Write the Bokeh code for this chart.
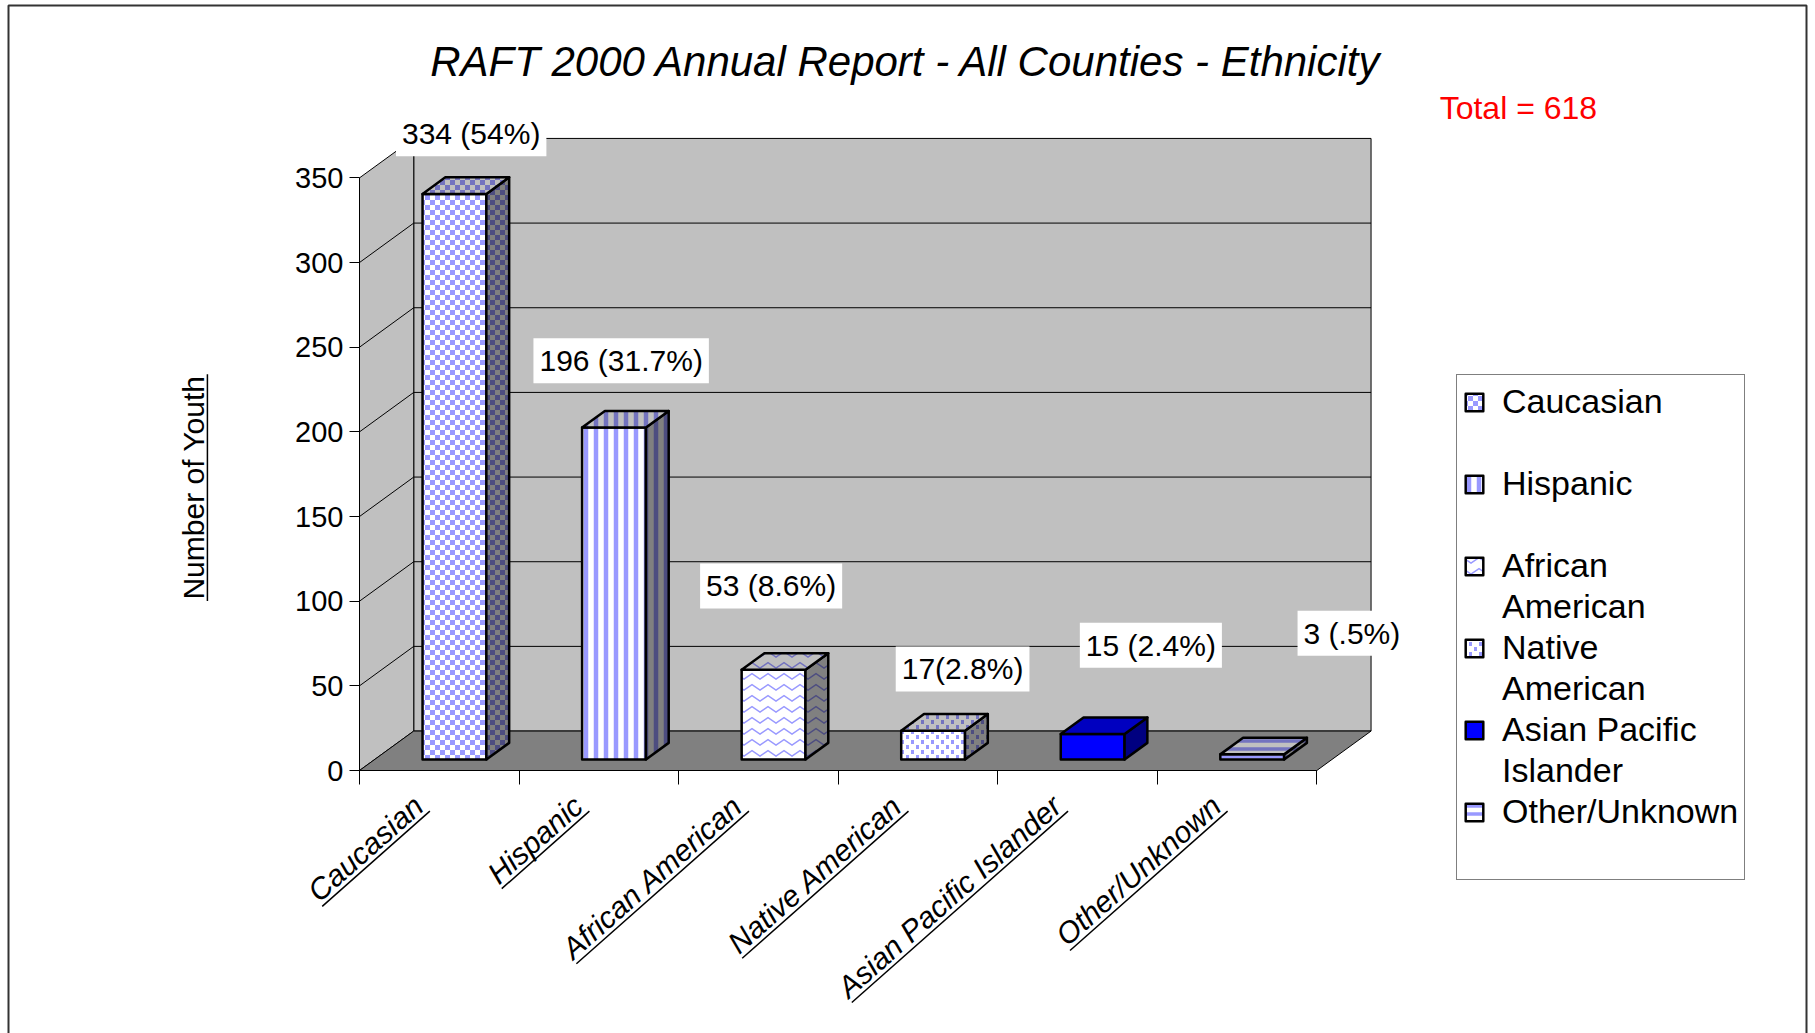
import math

from bokeh.core.properties import value
from bokeh.embed import file_html
from bokeh.models import (BoxAnnotation, CanvasTexture, FixedTicker, Label,
                          Legend, LegendItem, Range1d)
from bokeh.plotting import figure
from bokeh.resources import INLINE

# ---- data -------------------------------------------------------------
categories = ["Caucasian", "Hispanic", "African American", "Native American",
              "Asian Pacific Islander", "Other/Unknown"]
# legend rows: each category takes two text lines
legend_lines = [("Caucasian", " "), ("Hispanic", " "), ("African", "American"),
                ("Native", "American"), ("Asian Pacific", "Islander"),
                ("Other/Unknown", " ")]
youth = [334, 196, 53, 17, 15, 3]
value_labels = ["334 (54%)", "196 (31.7%)", "53 (8.6%)", "17(2.8%)", "15 (2.4%)", "3 (.5%)"]
y_ticks = [0, 50, 100, 150, 200, 250, 300, 350]
y_title = "Number of Youth"

# ---- layout -----------------------------------------------------------
FONT = "Liberation Sans"
W, H = 1815, 1033
N = len(categories)
Y_MAX = y_ticks[-1]
PX_PER_CAT = 159.55          # horizontal pixels per category
PX_PER_UNIT = 1.6932         # vertical pixels per youth
ORIGIN_X, ORIGIN_Y = 359, 770        # canvas position of the axes origin
DEPTH_X, DEPTH_Y = 0.34, 23.3        # floor depth (category widths, youth units)
BAR_LO, BAR_HI = 0.3, 0.7            # bar extent inside its category
D_FRONT, D_BACK = 0.28, 0.70         # bar extent along the depth

# value label offsets from the bar origin (category widths, youth units)
label_dx = [0.70, 0.64, 0.58, 0.78, 0.96, 1.22]
label_dy = [42, 46, 56, 43, 59, 78]

# advance widths (1/1000 em) of the sans face, used to size underlines
ADV = {' ': 278, '/': 278, 'A': 667, 'C': 722, 'H': 722, 'I': 278, 'N': 722,
       'O': 778, 'P': 667, 'U': 722, 'Y': 667, 'a': 556, 'b': 556, 'c': 500,
       'd': 556, 'e': 556, 'f': 278, 'h': 556, 'i': 222, 'k': 500, 'l': 222,
       'm': 833, 'n': 556, 'o': 556, 'p': 556, 'r': 333, 's': 500, 't': 278,
       'u': 556, 'v': 500, 'w': 722}
MID = 0.36        # distance of the text middle above its baseline, in em


def text_px(s, size):
    return sum(ADV.get(ch, 556) for ch in s) * size / 1000.0


def px_to_data(dxp, dyp):
    """screen pixel offset (y down) -> data offset"""
    return dxp / PX_PER_CAT, -dyp / PX_PER_UNIT


def underlined_text(p, xs, ys, texts, size, angle, align, style="normal", gap=4):
    """Text whose baseline passes through (x, y), with a line drawn under it."""
    ca, sa = math.cos(angle), math.sin(angle)
    up = px_to_data(-sa * MID * size, -ca * MID * size)       # baseline -> middle
    down = px_to_data(sa * gap, ca * gap)                     # baseline -> underline
    p.text(x=[x + up[0] for x in xs], y=[y + up[1] for y in ys], text=texts,
           angle=angle, text_align=align, text_baseline="middle",
           text_font=value(FONT), text_font_size=f"{size}px",
           text_font_style=style, text_color="black")
    x0s, y0s, x1s, y1s = [], [], [], []
    for x, y, t in zip(xs, ys, texts):
        w = text_px(t, size)
        lo, hi = (-w, 2) if align == "right" else (-w / 2, w / 2)
        a = px_to_data(lo * ca, -lo * sa)
        b = px_to_data(hi * ca, -hi * sa)
        x0s.append(x + down[0] + a[0]); y0s.append(y + down[1] + a[1])
        x1s.append(x + down[0] + b[0]); y1s.append(y + down[1] + b[1])
    p.segment(x0=x0s, y0=y0s, x1=x1s, y1=y1s, line_color="black", line_width=1.5)


x_range = Range1d(-ORIGIN_X / PX_PER_CAT, (W - ORIGIN_X) / PX_PER_CAT)
y_range = Range1d(-(H - ORIGIN_Y) / PX_PER_UNIT, ORIGIN_Y / PX_PER_UNIT)

p = figure(width=W, height=H, output_backend="svg", toolbar_location=None,
           title=None, x_range=x_range, y_range=y_range, min_border=0)
p.xgrid.visible = False
p.ygrid.visible = False
p.outline_line_color = None
p.background_fill_color = "white"
p.border_fill_color = "white"

# ---- walls and floor --------------------------------------------------
dx, dy = DEPTH_X, DEPTH_Y
p.patch([dx, N + dx, N + dx, dx], [dy, dy, Y_MAX + dy, Y_MAX + dy],
        fill_color="#c0c0c0", line_color="black", line_width=1)
p.patch([0, dx, dx, 0], [0, dy, Y_MAX + dy, Y_MAX],
        fill_color="#c0c0c0", line_color="black", line_width=1)
p.patch([0, N, N + dx, dx], [0, 0, dy, dy],
        fill_color="#808080", line_color="black", line_width=1)

grid_vals = y_ticks[1:-1]
p.segment(x0=[dx] * len(grid_vals), y0=[v + dy for v in grid_vals],
          x1=[N + dx] * len(grid_vals), y1=[v + dy for v in grid_vals],
          line_color="black", line_width=1)
p.segment(x0=[0] * len(grid_vals), y0=grid_vals,
          x1=[dx] * len(grid_vals), y1=[v + dy for v in grid_vals],
          line_color="black", line_width=1)

# ---- fill textures ----------------------------------------------------
checker = CanvasTexture(code="""
const n = 10;
ctx.canvas.width = n; ctx.canvas.height = n;
ctx.fillStyle = color;
ctx.fillRect(0, 0, n / 2, n / 2);
ctx.fillRect(n / 2, n / 2, n / 2, n / 2);
""")
speckle = CanvasTexture(code="""
const n = 10;
ctx.canvas.width = n; ctx.canvas.height = n;
ctx.fillStyle = color;
ctx.fillRect(1, 0, 3, 4);
ctx.fillRect(6, 5, 3, 4);
""")
zigzag = CanvasTexture(code="""
const w = 16, h = 11;
ctx.canvas.width = w; ctx.canvas.height = h;
ctx.strokeStyle = color;
ctx.lineWidth = 1.5;
ctx.beginPath();
ctx.moveTo(-1, 2); ctx.lineTo(w / 2, 8); ctx.lineTo(w + 1, 2);
ctx.stroke();
""")
textures = {"checker": checker, "speckle": speckle, "zigzag": zigzag}

fills = [
    dict(hatch_pattern="checker", hatch_scale=10, hatch_weight=1),
    dict(hatch_pattern="vertical_line", hatch_scale=10, hatch_weight=4.5),
    dict(hatch_pattern="zigzag", hatch_scale=16, hatch_weight=1.5),
    dict(hatch_pattern="speckle", hatch_scale=10, hatch_weight=1),
    None,
    dict(hatch_pattern="horizontal_line", hatch_scale=8, hatch_weight=3.5),
]
# face shading: (background, pattern colour) for front, top, side
pattern_shades = {"front": ("#ffffff", "#9999ff"),
                  "top": ("#c0c0c0", "#7373bf"),
                  "side": ("#808080", "#4d4d80")}
solid_shades = {"front": "#0000ff", "top": "#0000c0", "side": "#000080"}

front_renderers = []
fa_x, fa_y = D_FRONT * dx, D_FRONT * dy
fb_x, fb_y = D_BACK * dx, D_BACK * dy
for i, (v, fill) in enumerate(zip(youth, fills)):
    x0, x1 = i + BAR_LO, i + BAR_HI
    faces = {
        "front": ([x0 + fa_x, x1 + fa_x, x1 + fa_x, x0 + fa_x],
                  [fa_y, fa_y, fa_y + v, fa_y + v]),
        "side": ([x1 + fa_x, x1 + fb_x, x1 + fb_x, x1 + fa_x],
                 [fa_y, fb_y, fb_y + v, fa_y + v]),
        "top": ([x0 + fa_x, x1 + fa_x, x1 + fb_x, x0 + fb_x],
                [fa_y + v, fa_y + v, fb_y + v, fb_y + v]),
    }
    for face in ("front", "side", "top"):
        xs, ys = faces[face]
        if fill is None:
            style = dict(fill_color=solid_shades[face])
        else:
            bg, fg = pattern_shades[face]
            style = dict(fill_color=bg, hatch_color=fg, **fill)
            if fill["hatch_pattern"] in textures:
                style["hatch_extra"] = textures
        r = p.patch(xs, ys, line_color="black", line_width=2.5,
                    line_join="round", **style)
        if face == "front":
            front_renderers.append(r)

# ---- value labels -----------------------------------------------------
p.text(x=[i + ddx for i, ddx in enumerate(label_dx)],
       y=[v + ddy for v, ddy in zip(youth, label_dy)],
       text=value_labels, text_align="center", text_baseline="middle",
       text_font=value(FONT), text_font_size="30px", text_color="black",
       background_fill_color="white", padding=6)

# ---- titles -----------------------------------------------------------
p.add_layout(Label(x=3.464, y=418.5,
                   text="RAFT 2000 Annual Report -  All Counties - Ethnicity",
                   text_align="center", text_baseline="alphabetic",
                   text_font=FONT, text_font_size="42px",
                   text_font_style="italic", text_color="black"))
p.add_layout(Label(x=6.77, y=391.5, text=f"Total = {sum(youth)}",
                   text_align="left", text_baseline="alphabetic",
                   text_font=FONT, text_font_size="32px", text_color="#ff0000"))

# y title (baseline on the right, reading upwards), underlined
underlined_text(p, [-0.972], [Y_MAX * 0.4775], [y_title], 30, math.pi / 2,
                "center", gap=3)

# ---- axes -------------------------------------------------------------
yax = p.yaxis[0]
yax.fixed_location = 0
yax.ticker = FixedTicker(ticks=y_ticks)
yax.bounds = (0, Y_MAX)
yax.major_label_text_font = FONT
yax.major_label_text_font_size = "29px"
yax.major_label_text_color = "black"
yax.major_label_standoff = 6
yax.major_tick_out = 10
yax.major_tick_in = 0
yax.major_tick_line_color = "black"
yax.minor_tick_line_color = None
yax.axis_line_color = "black"

xax = p.xaxis[0]
xax.fixed_location = 0
xax.ticker = FixedTicker(ticks=list(range(N + 1)))
xax.major_label_overrides = {i: "" for i in range(N + 1)}
xax.bounds = (0, N)
xax.major_tick_out = 14
xax.major_tick_in = 0
xax.major_tick_line_color = "black"
xax.minor_tick_line_color = None
xax.axis_line_color = "black"

# category names: slanted, italic, underlined; baseline ends below each slot
underlined_text(p, [i + 0.415 for i in range(N)], [-23] * N, categories,
                30, math.radians(41.5), "right", style="italic", gap=4)

# ---- legend -----------------------------------------------------------
items = []
for (first, second), r in zip(legend_lines, front_renderers):
    items.append(LegendItem(label=first, renderers=[r]))
    items.append(LegendItem(label=second, renderers=[]))
legend = Legend(items=items, location=(1456, 153),
                label_text_font=FONT, label_text_font_size="34px",
                label_text_color="black",
                glyph_width=22, glyph_height=22, label_standoff=17,
                label_height=41, spacing=0, padding=6, margin=0,
                border_line_color="black", border_line_width=1,
                background_fill_color="white", background_fill_alpha=1)
p.add_layout(legend)

# ---- chart border -----------------------------------------------------
p.add_layout(BoxAnnotation(left=8, right=1806, top=5, bottom=1040,
                           left_units="canvas", right_units="canvas",
                           top_units="canvas", bottom_units="canvas",
                           fill_color=None, line_color="#333333",
                           line_alpha=1, line_width=2, level="overlay"))

open("out.html", "w").write(file_html(p, INLINE))
